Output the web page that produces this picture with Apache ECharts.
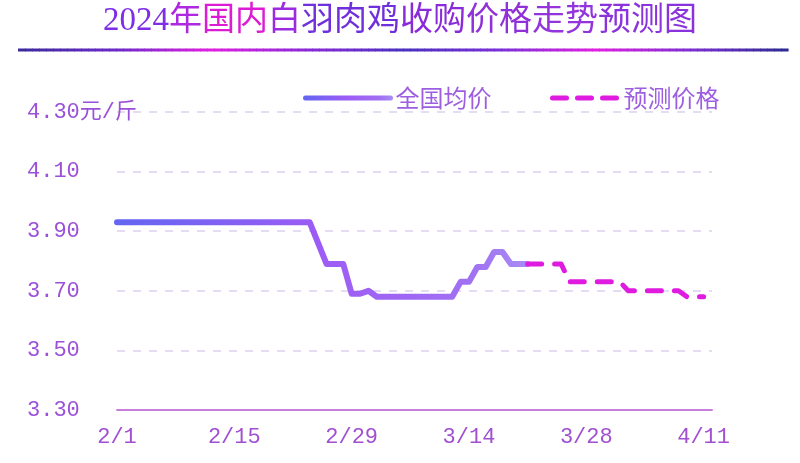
<!DOCTYPE html>
<html><head><meta charset="utf-8">
<script src="https://cdn.jsdelivr.net/npm/echarts@6/dist/echarts.min.js"></script>
<style>html,body{margin:0;padding:0;background:#fff}#c{width:800px;height:463px}</style>
</head><body><div id="c"></div>
<script>
const titleParts = ['2024', '年', '国内', '白', '羽肉鸡', '收购', '价格', '走势', '预测图'];
const seriesNames = ['全国均价', '预测价格'];
const unitLabel = '元/斤';
const dates = [
 '2/1','2/2','2/3','2/4','2/5','2/6','2/7','2/8','2/9','2/10','2/11','2/12','2/13','2/14',
 '2/15','2/16','2/17','2/18','2/19','2/20','2/21','2/22','2/23','2/24','2/25','2/26','2/27','2/28',
 '2/29','3/1','3/2','3/3','3/4','3/5','3/6','3/7','3/8','3/9','3/10','3/11','3/12','3/13',
 '3/14','3/15','3/16','3/17','3/18','3/19','3/20','3/21','3/22','3/23','3/24','3/25','3/26','3/27',
 '3/28','3/29','3/30','3/31','4/1','4/2','4/3','4/4','4/5','4/6','4/7','4/8','4/9','4/10',
 '4/11','4/12'
];
const actual = [
 3.93,3.93,3.93,3.93,3.93,3.93,3.93,3.93,3.93,3.93,3.93,3.93,3.93,3.93,
 3.93,3.93,3.93,3.93,3.93,3.93,3.93,3.93,3.93,3.93,3.86,3.79,3.79,3.79,
 3.69,3.69,3.70,3.68,3.68,3.68,3.68,3.68,3.68,3.68,3.68,3.68,3.68,3.73,
 3.73,3.78,3.78,3.83,3.83,3.79,3.79,3.79,null,null,null,null,null,null,
 null,null,null,null,null,null,null,null,null,null,null,null,null,null,
 null,null
];
const forecast = [
 null,null,null,null,null,null,null,null,null,null,null,null,null,null,
 null,null,null,null,null,null,null,null,null,null,null,null,null,null,
 null,null,null,null,null,null,null,null,null,null,null,null,null,null,
 null,null,null,null,null,null,null,3.79,3.79,3.79,3.79,3.79,3.73,3.73,
 3.73,3.73,3.73,3.73,3.73,3.70,3.70,3.70,3.70,3.70,3.70,3.70,3.68,3.68,
 3.68,null
];
const yMin = 3.3, yMax = 4.3, yStep = 0.2;

const chart = echarts.init(document.getElementById('c'), null, {renderer: 'canvas'});
const G = echarts.graphic.LinearGradient;
const labelFont = '"Liberation Mono", "Noto Sans CJK SC", monospace';
const legendText = {color: '#9d5fe0', fontSize: 24, fontFamily: '"Noto Sans CJK SC", sans-serif', lineHeight: 28};
const titleColors = ['#7d2ee6', '#ad28e0', '#dc1cd4', '#9c2ae0', '#6f30dc', '#8a2ad8', '#9030d8', '#9434dc', '#8a32dc'];
const titleFontFamily = '"Liberation Serif", "Noto Sans CJK SC", serif';
const rich = {};
titleColors.forEach((c, i) => { rich['t' + i] = {fill: c, fontSize: 33, fontFamily: titleFontFamily}; });
const titleRich = titleParts.map((p, i) => '{t' + i + '|' + p + '}').join('');

// decorative rule under the title, drawn as thin slices with blended colours
const ruleColors = ['#3a2a9c', '#6a2ac8', '#e020e0', '#8a2ad8', '#4a30c0', '#7a30d8', '#e020e0', '#7a30d0', '#2a2a90'];
const ruleX0 = 18, ruleX1 = 788, ruleSlices = 110;
const ruleGraphics = [];
for (let i = 0; i < ruleSlices; i++) {
  const w = (ruleX1 - ruleX0) / ruleSlices;
  ruleGraphics.push({
    type: 'rect', silent: true,
    shape: {x: ruleX0 + i * w, y: 48.5, width: w + 0.6, height: 3},
    style: {fill: echarts.color.lerp((i + 0.5) / ruleSlices, ruleColors)}
  });
}

chart.setOption({
  backgroundColor: '#ffffff',
  animation: false,
  graphic: [
    {
      type: 'text', left: 'center', top: 5,
      style: {text: titleRich, rich: rich, fontSize: 33, fontFamily: titleFontFamily}
    },
    {type: 'group', children: ruleGraphics}
  ],
  legend: [
    {data: [seriesNames[0]], left: 303, top: 84, padding: 0, itemWidth: 85, itemHeight: 14, textStyle: legendText,
     itemStyle: {opacity: 0}, lineStyle: {width: 5}},
    {data: [seriesNames[1]], left: 550, top: 84, padding: 0, itemWidth: 66, itemHeight: 14, textStyle: legendText,
     itemStyle: {opacity: 0}, lineStyle: {width: 5, type: [14, 11]}}
  ],
  grid: {left: 117, right: 88, top: 112, bottom: 53, containLabel: false},
  xAxis: {
    type: 'category', data: dates, boundaryGap: false,
    axisLine: {lineStyle: {color: '#c77fdd', width: 2}},
    axisTick: {show: false},
    axisLabel: {
      interval: (i) => i % 14 === 0, color: '#a050d0', fontSize: 22, fontFamily: labelFont, margin: 16
    },
    splitLine: {show: false}
  },
  yAxis: {
    type: 'value', min: yMin, max: yMax, interval: yStep,
    axisLine: {show: false}, axisTick: {show: false},
    axisLabel: {
      align: 'left', margin: 90, color: '#9a50d8', fontSize: 22, fontFamily: labelFont,
      formatter: (v) => Math.abs(v - yMax) < 1e-6 ? v.toFixed(2) + unitLabel : v.toFixed(2)
    },
    splitLine: {lineStyle: {color: '#ddd0f0', width: 1.5, type: [8, 8]}}
  },
  series: [
    {
      name: seriesNames[0], type: 'line', data: actual, symbol: 'none', showSymbol: false,
      connectNulls: false,
      lineStyle: {
        width: 6, cap: 'round', join: 'round',
        color: new G(0, 0, 1, 0, [
          {offset: 0, color: '#6366f1'},
          {offset: 0.5, color: '#9d5cf5'},
          {offset: 0.85, color: '#a070f2'},
          {offset: 1, color: '#a98cf5'}
        ])
      },
      itemStyle: {color: '#8b6cf0'}
    },
    {
      name: seriesNames[1], type: 'line', data: forecast, symbol: 'none', showSymbol: false,
      lineStyle: {width: 5, color: '#e01be0', type: [14, 13], cap: 'round', join: 'round'},
      itemStyle: {color: '#e01be0'}
    }
  ]
});
</script>
</body></html>
